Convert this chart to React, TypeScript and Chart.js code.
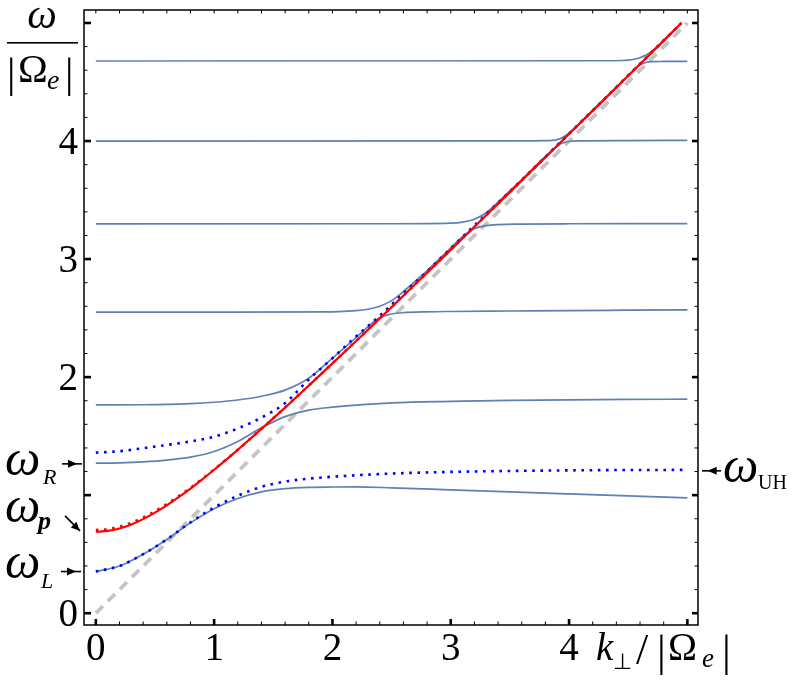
import React, { useEffect, useRef } from "react";
import { Chart, registerables } from "chart.js";

Chart.register(...registerables);

// ---- axes ----
const X_MIN = -0.1;
const X_MAX = 5.09;
const Y_MIN = -0.1;
const Y_MAX = 5.11;
const xMajorTicks = [0, 1, 2, 3, 4, 5];
const xTickLabels = ["0", "1", "2", "3", "4", ""];
const yMajorTicks = [0, 1, 2, 3, 4, 5];
const yTickLabels = ["0", "", "2", "3", "4", ""];
const minorTicks = [0.2, 0.4, 0.6, 0.8, 1.2, 1.4, 1.6, 1.8, 2.2, 2.4, 2.6, 2.8, 3.2, 3.4, 3.6, 3.8, 4.2, 4.4, 4.6, 4.8];

// ---- marker levels ----
const wR = 1.265;
const wP = 0.697;
const wL = 0.353;
const wUH = 1.206;

// ---- light line ----
const lightK = [0, 5];
const lightW = [0, 5];

// ---- red (solid) ----
const redK = [0, 0.1, 0.2, 0.3, 0.4, 0.5, 0.6, 0.7, 0.8, 0.9, 1.0, 1.2, 1.4, 1.6, 1.8, 2.0, 2.25, 2.5, 2.75, 3.0, 3.25, 3.5, 3.75, 4.0, 4.25, 4.5, 4.75, 4.95];
const redW = [0.69, 0.697, 0.718, 0.752, 0.797, 0.852, 0.914, 0.983, 1.056, 1.134, 1.215, 1.384, 1.561, 1.742, 1.928, 2.116, 2.353, 2.593, 2.835, 3.078, 3.322, 3.567, 3.813, 4.059, 4.306, 4.553, 4.8, 5.0];

// ---- red (dotted) ----
const redDotK = [0, 0.1, 0.2, 0.3, 0.4, 0.5, 0.6, 0.7, 0.8, 0.9, 1.0, 1.2, 1.4, 1.6, 1.8, 2.0, 2.5, 3.0, 3.5, 4.0, 4.5, 4.95];
const redDotW = [0.705, 0.712, 0.733, 0.766, 0.81, 0.864, 0.925, 0.992, 1.063, 1.139, 1.218, 1.386, 1.562, 1.743, 1.929, 2.117, 2.594, 3.079, 3.568, 4.06, 4.554, 5.0];

// ---- blue dotted, upper ----
const bduK = [0, 0.2, 0.4, 0.6, 0.8, 1.0, 1.2, 1.4, 1.6, 1.8, 2.0, 2.2, 2.4, 2.6, 2.8, 3.0, 3.2, 3.5, 4.0, 4.5, 4.95];
const bduW = [1.36, 1.372, 1.398, 1.425, 1.455, 1.495, 1.565, 1.657, 1.78, 1.98, 2.16, 2.345, 2.52, 2.71, 2.895, 3.09, 3.285, 3.573, 4.062, 4.555, 5.0];

// ---- blue dotted, lower ----
const bdlK = [0, 0.2, 0.4, 0.6, 0.8, 1.0, 1.2, 1.4, 1.6, 1.8, 2.0, 2.5, 3.0, 3.5, 4.0, 4.5, 5.0];
const bdlW = [0.353, 0.4, 0.5, 0.625, 0.77, 0.895, 0.995, 1.07, 1.115, 1.14, 1.156, 1.183, 1.197, 1.205, 1.21, 1.213, 1.214];

// ---- Bernstein branches (solid) ----
const b1K = [0, 0.2, 0.4, 0.6, 0.8, 1.0, 1.2, 1.4, 1.6, 1.8, 2.0, 2.2, 2.5, 3.0, 3.5, 4.0, 4.5, 5.0];
const b1W = [0.353, 0.4, 0.5, 0.625, 0.765, 0.885, 0.972, 1.028, 1.055, 1.066, 1.069, 1.07, 1.062, 1.045, 1.028, 1.011, 0.994, 0.977];

const b2K = [0, 0.2, 0.4, 0.6, 0.8, 1.0, 1.2, 1.4, 1.6, 1.8, 2.0, 2.2, 2.5, 3.0, 3.5, 4.0, 4.5, 5.0];
const b2W = [1.271, 1.274, 1.282, 1.297, 1.322, 1.37, 1.455, 1.57, 1.665, 1.72, 1.745, 1.763, 1.782, 1.795, 1.803, 1.808, 1.811, 1.813];

const b3K = [0, 0.4, 0.8, 1.0, 1.2, 1.4, 1.6, 1.8, 2.0, 2.2, 2.4, 2.5, 2.6, 2.8, 3.0, 3.5, 4.0, 4.5, 5.0];
const b3W = [1.765, 1.766, 1.775, 1.787, 1.806, 1.838, 1.89, 1.99, 2.16, 2.335, 2.505, 2.535, 2.546, 2.553, 2.556, 2.56, 2.564, 2.567, 2.57];

const b4K = [0, 1.0, 2.0, 2.2, 2.3, 2.4, 2.5, 2.6, 2.7, 2.8, 3.0, 3.1, 3.2, 3.3, 3.4, 3.6, 4.0, 4.5, 5.0];
const b4W = [2.55, 2.55, 2.553, 2.563, 2.575, 2.6, 2.648, 2.725, 2.812, 2.902, 3.095, 3.19, 3.258, 3.283, 3.292, 3.296, 3.299, 3.3, 3.3];

const b5K = [0, 2.5, 3.0, 3.1, 3.2, 3.3, 3.4, 3.5, 3.6, 3.7, 3.8, 3.9, 3.95, 4.0, 4.1, 4.5, 5.0];
const b5W = [3.298, 3.299, 3.304, 3.313, 3.338, 3.392, 3.482, 3.578, 3.674, 3.772, 3.869, 3.958, 3.985, 3.996, 4.001, 4.004, 4.005];

const b6K = [0, 3.5, 3.8, 3.9, 3.95, 4.0, 4.1, 4.2, 4.3, 4.4, 4.5, 4.55, 4.6, 4.65, 4.7, 4.8, 5.0];
const b6W = [4.0, 4.001, 4.003, 4.012, 4.032, 4.068, 4.163, 4.26, 4.357, 4.455, 4.555, 4.603, 4.645, 4.665, 4.672, 4.674, 4.675];

const b7K = [0, 4.3, 4.45, 4.5, 4.55, 4.6, 4.65, 4.7, 4.75, 4.8, 4.85, 4.9, 4.95];
const b7W = [4.678, 4.68, 4.682, 4.686, 4.693, 4.706, 4.728, 4.762, 4.806, 4.853, 4.902, 4.951, 5.0];

const bernK = [b1K, b2K, b3K, b4K, b5K, b6K, b7K];
const bernW = [b1W, b2W, b3W, b4W, b5W, b6W, b7W];

const SERIF = '"Liberation Serif"';
const STEEL = "#5E81B5";

const pts = (k: number[], w: number[]) => k.map((v, i) => ({ x: v, y: w[i] }));

function arrow(ctx: CanvasRenderingContext2D, x1: number, y1: number, x2: number, y2: number, headAt: number) {
  ctx.save();
  ctx.strokeStyle = "#000";
  ctx.fillStyle = "#000";
  ctx.lineWidth = 1.6;
  ctx.beginPath();
  ctx.moveTo(x1, y1);
  ctx.lineTo(x2, y2);
  ctx.stroke();
  const ang = Math.atan2(y2 - y1, x2 - x1);
  const tx = x1 + (x2 - x1) * headAt;
  const ty = y1 + (y2 - y1) * headAt;
  const L = 9;
  const H = 4;
  ctx.beginPath();
  ctx.moveTo(tx, ty);
  ctx.lineTo(tx - L * Math.cos(ang) - H * Math.sin(ang), ty - L * Math.sin(ang) + H * Math.cos(ang));
  ctx.lineTo(tx - L * Math.cos(ang) + H * Math.sin(ang), ty - L * Math.sin(ang) - H * Math.cos(ang));
  ctx.closePath();
  ctx.fill();
  ctx.restore();
}

function text(ctx: CanvasRenderingContext2D, s: string, x: number, y: number, font: string, align: CanvasTextAlign = "left") {
  ctx.font = font;
  ctx.textAlign = align;
  ctx.textBaseline = "alphabetic";
  ctx.fillText(s, x, y);
}

const framePlugin = {
  id: "frameAndLabels",
  afterDraw(chart: any) {
    const { ctx, chartArea: a, scales } = chart;
    const xs = scales.x;
    const ys = scales.y;
    ctx.save();
    ctx.fillStyle = "#000";
    ctx.strokeStyle = "#000";
    ctx.lineWidth = 1.5;
    ctx.strokeRect(a.left, a.top, a.right - a.left, a.bottom - a.top);

    // ticks
    xMajorTicks.forEach((v) => {
      const px = xs.getPixelForValue(v);
      ctx.fillRect(px - 1.3, a.bottom - 6, 2.6, 6);
      ctx.fillRect(px - 0.5, a.top, 1, 3.5);
    });
    minorTicks.forEach((v) => {
      const px = xs.getPixelForValue(v);
      ctx.fillRect(px - 0.5, a.bottom - 3.5, 1, 3.5);
      ctx.fillRect(px - 0.5, a.top, 1, 3.5);
    });
    yMajorTicks.forEach((v) => {
      const py = ys.getPixelForValue(v);
      ctx.fillRect(a.left, py - 1.3, 7, 2.6);
      ctx.fillRect(a.right - 6, py - 1.3, 6, 2.6);
    });
    minorTicks.forEach((v) => {
      const py = ys.getPixelForValue(v);
      ctx.fillRect(a.left, py - 0.5, 3.5, 1);
      ctx.fillRect(a.right - 3.5, py - 0.5, 3.5, 1);
    });

    // tick labels
    const tickFont = `39px ${SERIF}`;
    xMajorTicks.forEach((v, i) => {
      if (!xTickLabels[i]) return;
      text(ctx, xTickLabels[i], xs.getPixelForValue(v), 660, tickFont, "center");
    });
    yMajorTicks.forEach((v, i) => {
      if (!yTickLabels[i]) return;
      text(ctx, yTickLabels[i], 78, ys.getPixelForValue(v) + 13, tickFont, "right");
    });

    // y title: omega / |Omega_e|
    text(ctx, "ω", 42, 28, `italic 42px ${SERIF}`, "center");
    ctx.fillRect(7, 42, 71, 1.6);
    text(ctx, "|", 7, 87, `42px ${SERIF}`);
    text(ctx, "Ω", 18, 82, `40px ${SERIF}`);
    text(ctx, "e", 47, 89, `italic 28px ${SERIF}`);
    text(ctx, "|", 65, 87, `42px ${SERIF}`);

    // x title: k_perp / |Omega_e|
    text(ctx, "k", 596, 660, `italic 39px ${SERIF}`);
    text(ctx, "⊥", 613, 669, `22px "DejaVu Sans"`);
    text(ctx, "/", 636, 664, `44px ${SERIF}`);
    text(ctx, "|", 657, 666, `44px ${SERIF}`);
    text(ctx, "Ω", 668, 660, `39px ${SERIF}`);
    text(ctx, "e", 702, 667, `italic 27px ${SERIF}`);
    text(ctx, "|", 722, 666, `44px ${SERIF}`);

    // left markers
    const yRp = ys.getPixelForValue(wR);
    const yPp = ys.getPixelForValue(wP);
    const yLp = ys.getPixelForValue(wL);
    const yUHp = ys.getPixelForValue(wUH);
    const omegaFont = `italic 50px ${SERIF}`;
    text(ctx, "ω", 5, yRp + 11, omegaFont);
    text(ctx, "R", 43, yRp + 20, `italic 22px ${SERIF}`);
    arrow(ctx, 62, yRp, 82, yRp, 0.75);

    text(ctx, "ω", 5, yPp - 9, omegaFont);
    text(ctx, "p", 38, yPp - 2, `italic bold 26px ${SERIF}`);
    arrow(ctx, 65, yPp - 15, 80, yPp, 1.0);

    text(ctx, "ω", 5, yLp + 6, omegaFont);
    text(ctx, "L", 41, yLp + 16, `italic 22px ${SERIF}`);
    arrow(ctx, 61, yLp, 81, yLp, 0.75);

    // right marker
    text(ctx, "ω", 723, yUHp + 11, omegaFont);
    text(ctx, "UH", 758, yUHp + 18, `20px ${SERIF}`);
    arrow(ctx, 721, yUHp, 702, yUHp, 0.7);

    ctx.restore();
  },
};

export default function App() {
  const canvasRef = useRef<HTMLCanvasElement | null>(null);

  useEffect(() => {
    if (!canvasRef.current) return;
    const base = {
      showLine: true,
      pointRadius: 0,
      pointHoverRadius: 0,
      fill: false,
      cubicInterpolationMode: "monotone" as const,
    };
    const datasets: any[] = [
      { ...base, label: "red", data: pts(redK, redW), borderColor: "#ff0000", borderWidth: 2.2, order: 0 },
      { ...base, label: "red dotted", data: pts(redDotK, redDotW), borderColor: "#ff0000", borderWidth: 2.6, borderDash: [2.6, 5.6], order: 1 },
      { ...base, label: "blue dotted upper", data: pts(bduK, bduW), borderColor: "#0000ff", borderWidth: 2.6, borderDash: [2.6, 5.6], order: 2 },
      { ...base, label: "blue dotted lower", data: pts(bdlK, bdlW), borderColor: "#0000ff", borderWidth: 2.6, borderDash: [2.6, 5.6], order: 2 },
      ...bernK.map((k, i) => ({ ...base, label: `branch ${i + 1}`, data: pts(k, bernW[i]), borderColor: STEEL, borderWidth: 1.7, order: 3 })),
      { ...base, label: "light line", data: pts(lightK, lightW), borderColor: "#c4c4c4", borderWidth: 3.8, borderDash: [10, 7], cubicInterpolationMode: "default", order: 4 },
    ];
    const chart = new Chart(canvasRef.current, {
      type: "scatter",
      data: { datasets },
      options: {
        animation: false,
        responsive: false,
        devicePixelRatio: 1,
        layout: { padding: { left: 84, right: 100, top: 10, bottom: 61 } },
        plugins: { legend: { display: false }, tooltip: { enabled: false } },
        scales: {
          x: { type: "linear", min: X_MIN, max: X_MAX, display: false },
          y: { type: "linear", min: Y_MIN, max: Y_MAX, display: false },
        },
      },
      plugins: [framePlugin],
    });
    return () => chart.destroy();
  }, []);

  return (
    <div style={{ position: "absolute", left: 0, top: 0, width: 798, height: 686, background: "#fff" }}>
      <canvas ref={canvasRef} width={798} height={686} style={{ display: "block" }} />
    </div>
  );
}
